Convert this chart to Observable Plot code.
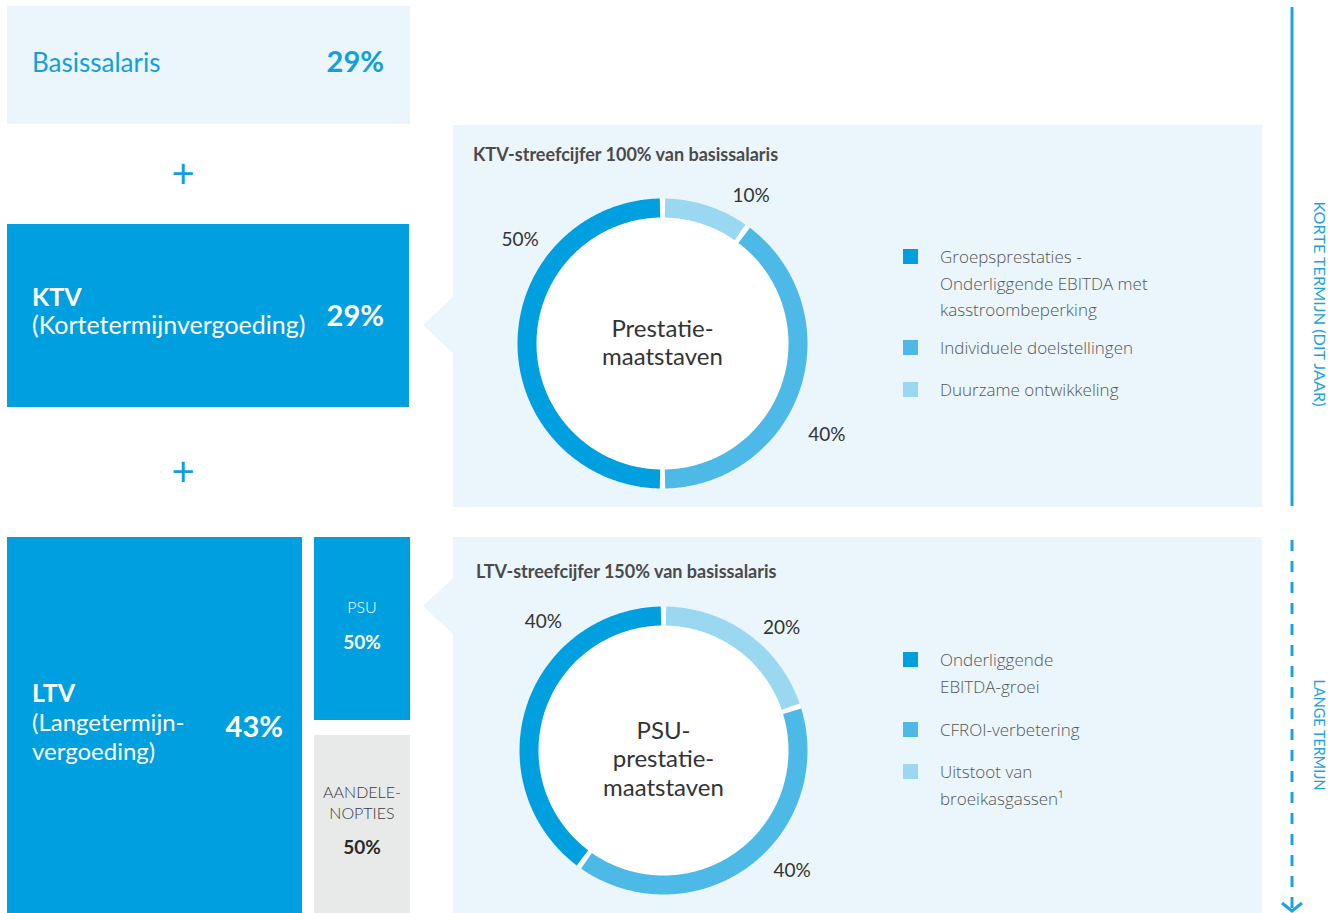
<!DOCTYPE html>
<html>
<head>
<meta charset="utf-8">
<script src="https://cdn.jsdelivr.net/npm/d3@7"></script>
<script src="https://cdn.jsdelivr.net/npm/@observablehq/plot@0.6"></script>
<style>
  html, body { margin: 0; padding: 0; background: #ffffff; }
  #root { position: relative; width: 1332px; height: 913px; overflow: hidden; font-family: Lato, "Open Sans", sans-serif; }
  #root > svg { position: absolute; }
</style>
</head>
<body>
<div id="root"></div>
<script>
// ---------------- DATA ----------------
const payCategories = ["Basissalaris", "KTV", "LTV"];
const payLongNames = ["", "(Kortetermijnvergoeding)", "(Langetermijn-\nvergoeding)"];
const payShares = [29, 29, 43];

const ltvSplitLabels = ["PSU", "AANDELE-\nNOPTIES"];
const ltvSplitShares = [50, 50];

const ktvTitle = "KTV-streefcijfer 100% van basissalaris";
const ktvCenter = ["Prestatie-", "maatstaven"];
const ktvMeasures = ["Groepsprestaties -\nOnderliggende EBITDA met\nkasstroombeperking", "Individuele doelstellingen", "Duurzame ontwikkeling"];
const ktvWeights = [50, 40, 10];

const ltvTitle = "LTV-streefcijfer 150% van basissalaris";
const psuCenter = ["PSU-", "prestatie-", "maatstaven"];
const psuMeasures = ["Onderliggende\nEBITDA-groei", "CFROI-verbetering", "Uitstoot van\nbroeikasgassen¹"];
const psuWeights = [40, 40, 20];

const horizonLabels = ["KORTE TERMIJN (DIT JAAR)", "LANGE TERMIJN"];

// ---------------- STYLE / LAYOUT ----------------
const C = {
  dark: "#009fdf", mid: "#4cb9e7", light: "#9ad7f1",
  panel: "#eaf5fc", gray: "#e8e9e9", blueText: "#129fdc",
  text: "#333333", legend: "#555555", title: "#4a4a4a", line: "#1ea2de"
};
const measureColors = [C.dark, C.mid, C.light];
const W = 1332, H = 913;

const root = d3.select("#root");
const svg = root.append("svg").attr("width", W).attr("height", H).style("left", "0px").style("top", "0px");

function txt(x, y, s, o = {}) {
  return svg.append("text").attr("x", x).attr("y", y).text(s)
    .attr("font-family", o.family || "Lato, 'Open Sans', sans-serif")
    .attr("font-size", o.size || 16)
    .attr("font-weight", o.weight || 400)
    .attr("fill", o.fill || C.text)
    .attr("text-anchor", o.anchor || "start");
}

// Left column boxes
svg.append("rect").attr("x", 7).attr("y", 6).attr("width", 403).attr("height", 118).attr("fill", C.panel);
svg.append("rect").attr("x", 7).attr("y", 224).attr("width", 402).attr("height", 183).attr("fill", C.dark);
svg.append("rect").attr("x", 7).attr("y", 537).attr("width", 295).attr("height", 376).attr("fill", C.dark);
svg.append("rect").attr("x", 314).attr("y", 537).attr("width", 96).attr("height", 183).attr("fill", C.dark);
svg.append("rect").attr("x", 314).attr("y", 735).attr("width", 96).attr("height", 178).attr("fill", C.gray);

// Panels + pointers
svg.append("rect").attr("x", 453).attr("y", 125).attr("width", 809).attr("height", 382).attr("fill", C.panel);
svg.append("rect").attr("x", 453).attr("y", 537).attr("width", 809).attr("height", 376).attr("fill", C.panel);
svg.append("polygon").attr("points", "453,297 423,325 453,353").attr("fill", C.panel);
svg.append("polygon").attr("points", "453,578 423,606 453,634").attr("fill", C.panel);

// Basissalaris
txt(32, 72, payCategories[0], {size: 26, fill: C.blueText});
txt(384, 72, payShares[0] + "%", {size: 29, weight: 700, fill: C.blueText, anchor: "end"});
// plus signs
txt(183, 188, "+", {size: 40, weight: 400, fill: C.blueText, anchor: "middle"});
txt(183, 486, "+", {size: 40, weight: 400, fill: C.blueText, anchor: "middle"});
// KTV
txt(32, 306, payCategories[1], {size: 25, weight: 700, fill: "#fff"});
txt(32, 334, payLongNames[1], {size: 25, fill: "#fff"});
txt(384, 326, payShares[1] + "%", {size: 29, weight: 700, fill: "#fff", anchor: "end"});
// LTV
txt(32, 702, payCategories[2], {size: 25, weight: 700, fill: "#fff"});
payLongNames[2].split("\n").forEach((s, i) => txt(32, 731 + i * 29, s, {size: 24, fill: "#fff"}));
txt(283, 737, payShares[2] + "%", {size: 29, weight: 700, fill: "#fff", anchor: "end"});
// PSU / options
txt(362, 613, ltvSplitLabels[0], {size: 16, weight: 300, fill: "#fff", anchor: "middle"});
txt(362, 649, ltvSplitShares[0] + "%", {size: 19, weight: 700, fill: "#fff", anchor: "middle"});
ltvSplitLabels[1].split("\n").forEach((s, i) => txt(362, 798 + i * 21, s, {size: 16, weight: 300, fill: "#3a3a3a", anchor: "middle"}));
txt(362, 854, ltvSplitShares[1] + "%", {size: 19, weight: 700, fill: "#2a2a2a", anchor: "middle"});

// Panel titles
txt(473, 161, ktvTitle, {size: 18, weight: 700, fill: C.title});
txt(476, 578, ltvTitle, {size: 18, weight: 700, fill: C.title});

// Legends
function legend(labels, colors, baselines) {
  labels.forEach((lab, i) => {
    const y0 = baselines[i];
    svg.append("rect").attr("x", 903).attr("y", y0 - 14).attr("width", 15).attr("height", 15).attr("fill", colors[i]);
    lab.split("\n").forEach((s, j) => txt(940, y0 + j * 26.5, s, {size: 17, weight: 300, family: "'Open Sans', sans-serif", fill: C.legend}));
  });
}
legend(ktvMeasures, measureColors, [263, 354, 396]);
legend(psuMeasures, measureColors, [666, 736, 778]);

// Right-side time horizon
svg.append("line").attr("x1", 1292).attr("x2", 1292).attr("y1", 7).attr("y2", 506).attr("stroke", C.line).attr("stroke-width", 3);
svg.append("line").attr("x1", 1292).attr("x2", 1292).attr("y1", 540).attr("y2", 911).attr("stroke", C.line).attr("stroke-width", 3).attr("stroke-dasharray", "11,10");
svg.append("polyline").attr("points", "1282,903 1292,911 1302,903").attr("fill", "none").attr("stroke", C.line).attr("stroke-width", 3);
svg.append("text").attr("transform", "translate(1314,304) rotate(90)").attr("text-anchor", "middle")
  .attr("font-family", "Lato, sans-serif").attr("font-size", 16).attr("font-weight", 400).attr("fill", C.line)
  .attr("textLength", 205).attr("lengthAdjust", "spacingAndGlyphs").text(horizonLabels[0]);
svg.append("text").attr("transform", "translate(1314,735) rotate(90)").attr("text-anchor", "middle")
  .attr("font-family", "Lato, sans-serif").attr("font-size", 16).attr("font-weight", 400).attr("fill", C.line)
  .attr("textLength", 111).attr("lengthAdjust", "spacingAndGlyphs").text(horizonLabels[1]);

// ---------------- DONUTS (Observable Plot) ----------------
function donut({names, values, colors, center, labelPos, cx, cy, rOut, rIn, centerShift}) {
  const PW = 460, PH = 380;
  const total = d3.sum(values);
  const rMid = (rOut + rIn) / 2;
  const padDeg = (2.5 / rMid) * 180 / Math.PI;
  const order = d3.range(names.length).reverse(); // clockwise from 12 o'clock
  const pts = [];
  let cum = 0;
  for (const i of order) {
    const a0 = cum / total * 360 + padDeg;
    cum += values[i];
    const a1 = cum / total * 360 - padDeg;
    const n = Math.max(2, Math.ceil((a1 - a0) / 0.5));
    for (let k = 0; k <= n; k++) {
      const a = (a0 + (a1 - a0) * k / n) * Math.PI / 180;
      pts.push({name: names[i], x: rMid * Math.sin(a), y: -rMid * Math.cos(a)});
    }
  }
  const labels = values.map((v, i) => {
    const a = labelPos[i][0] * Math.PI / 180, r = labelPos[i][1];
    return {text: v + "%", x: r * Math.sin(a), y: -r * Math.cos(a)};
  });
  const lineH = 28.5;
  const centerRows = center.map((s, i) => ({text: s, y: (i - (center.length - 1) / 2) * lineH + centerShift}));
  const plot = Plot.plot({
    width: PW, height: PH,
    marginTop: 0, marginRight: 0, marginBottom: 0, marginLeft: 0,
    x: {domain: [-PW / 2, PW / 2], range: [0, PW], axis: null},
    y: {domain: [-PH / 2, PH / 2], range: [0, PH], axis: null},
    color: {type: "ordinal", domain: names, range: colors},
    style: {background: "transparent", overflow: "visible", fontFamily: "Lato, sans-serif"},
    marks: [
      Plot.dot([0], {x: () => 0, y: () => 0, r: rOut, fill: "#ffffff", stroke: "none"}),
      Plot.line(pts, {x: "x", y: "y", z: "name", stroke: "name", strokeWidth: rOut - rIn, strokeLinecap: "butt", strokeLinejoin: "round"}),
      Plot.text(labels, {x: "x", y: "y", text: "text", fontSize: 19, fill: C.text}),
      Plot.text(centerRows, {x: () => 0, y: "y", text: "text", fontSize: 24, fill: C.text})
    ]
  });
  plot.style.position = "absolute";
  plot.style.left = (cx - PW / 2) + "px";
  plot.style.top = (cy - PH / 2) + "px";
  plot.style.maxWidth = "none";
  root.node().appendChild(plot);
}

donut({names: ktvMeasures, values: ktvWeights, colors: measureColors, center: ktvCenter,
  labelPos: [[306, 176], [119, 188], [31, 172]], cx: 662, cy: 343, rOut: 145, rIn: 126, centerShift: 0});
donut({names: psuMeasures, values: psuWeights, colors: measureColors, center: psuCenter,
  labelPos: [[317, 176], [133, 176], [44, 170]], cx: 663, cy: 750, rOut: 144, rIn: 125, centerShift: 9});
</script>
</body>
</html>
